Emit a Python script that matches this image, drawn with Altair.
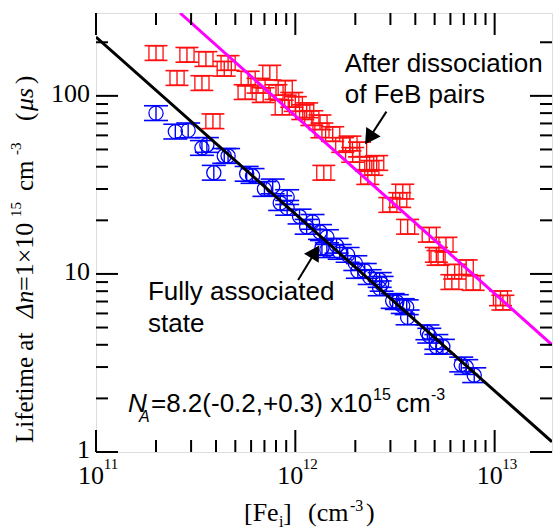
import altair as alt
import pandas as pd

# ---------------- data ----------------
# Fully associated state (blue circles)
blue_fe = [2.0e11, 2.5e11, 2.9e11, 3.4e11, 3.6e11, 4.4e11, 4.6e11, 3.9e11, 5.7e11, 6.1e11,
           7.0e11, 7.7e11, 8.4e11, 9.1e11, 9.1e11, 1.05e12, 1.14e12, 1.22e12, 1.33e12, 1.44e12,
           1.36e12, 1.44e12, 1.67e12, 1.61e12, 1.83e12, 2.0e12, 2.06e12, 2.23e12, 2.36e12, 2.65e12,
           2.71e12, 2.65e12, 3.08e12, 3.23e12, 3.46e12, 3.62e12, 3.66e12, 4.6e12, 4.7e12, 5.1e12,
           5.1e12, 5.5e12, 6.8e12, 7.2e12, 7.9e12]
blue_tau = [80, 63, 64, 51, 53, 46, 46, 37, 36.5, 35.5,
            30, 31, 25, 27, 23.5, 21, 18.4, 19.6, 17.2, 16.1,
            14.0, 13.6, 13.3, 14.4, 12.8, 11.5, 10.4, 10.4, 9.6, 9.25,
            8.8, 8.3, 7.05, 6.95, 6.6, 6.5, 5.7, 4.7, 4.5, 4.15,
            3.9, 3.9, 3.1, 3.0, 2.7]

# After dissociation of FeB pairs (red squares)
red_fe = [2.0e11, 2.86e11, 3.56e11, 4.6e11, 4.4e11, 2.55e11, 3.4e11, 3.86e11, 5.8e11, 7.45e11,
          5.6e11, 6.9e11, 8.9e11, 8.0e11, 8.6e11, 9.6e11, 1.09e12, 1.21e12, 1.33e12, 1.36e12,
          1.54e12, 1.73e12, 1.88e12, 1.94e12, 2.28e12, 2.56e12, 2.42e12, 2.31e12, 1.39e12, 3.46e12,
          3.34e12, 2.98e12, 3.66e12, 4.7e12, 5.7e12, 5.1e12, 5.2e12, 6.3e12, 7.2e12, 6.1e12,
          7.8e12, 1.07e13, 1.1e13, 6.5e11, 1.0e12, 1.14e12, 2.1e12]
red_tau = [174, 170, 161, 153, 142, 126, 118, 72, 125, 135,
           105, 101, 111, 105, 86, 95, 81, 75, 71, 64,
           61, 53, 54, 46.6, 41.5, 42, 39.4, 35, 37, 29,
           26, 24.4, 18.4, 16.6, 14.6, 12.8, 12.3, 10.3, 10.9, 9.0,
           8.9, 7.3, 6.9, 114, 90, 83, 50]

err_frac = 0.10  # relative error bar half-height

# fitted lines (end points)
black_fit_fe = [1e11, 1.94e13]
black_fit_tau = [214, 1.14]
mag_fit_fe = [2.64e11, 1.94e13]
mag_fit_tau = [292, 4.0]

# axes
x_major = [1e11, 1e12, 1e13]
x_exp = ["11", "12", "13"]
x_minor = [2e11, 3e11, 4e11, 5e11, 6e11, 7e11, 8e11, 9e11,
           2e12, 3e12, 4e12, 5e12, 6e12, 7e12, 8e12, 9e12]
y_major = [1, 10, 100]
y_labels = ["1", "10", "100"]
y_minor = [2, 3, 4, 5, 6, 7, 8, 9, 20, 30, 40, 50, 60, 70, 80, 90, 200]

# ---------------- chart ----------------
W, H = 456, 439
xs = alt.Scale(type="log", domain=[1e11, 1.94e13], nice=False)
ys = alt.Scale(type="log", domain=[1, 292], nice=False)
SERIF = "Liberation Serif"
SANS = "Liberation Sans"


def X(f):
    return alt.X(f, type="quantitative", scale=xs, axis=None)


def Y(f):
    return alt.Y(f, type="quantitative", scale=ys, axis=None)


def series(fe, tau):
    df = pd.DataFrame({"fe": fe, "tau": tau})
    df["lo"] = df["tau"] / (1 + err_frac)
    df["hi"] = df["tau"] * (1 + err_frac)
    return df


blue = series(blue_fe, blue_tau)
red = series(red_fe, red_tau)


def errbars(df, color, cap):
    base = alt.Chart(df)
    stem = base.mark_rule(color=color, strokeWidth=1.4, clip=True).encode(
        x=X("fe"), y=Y("lo"), y2="hi:Q")
    top = base.mark_tick(orient="horizontal", color=color, size=cap, thickness=1.6,
                         opacity=1, clip=True).encode(x=X("fe"), y=Y("hi"))
    bot = base.mark_tick(orient="horizontal", color=color, size=cap, thickness=1.6,
                         opacity=1, clip=True).encode(x=X("fe"), y=Y("lo"))
    return [stem, top, bot]


red_pts = alt.Chart(red).mark_point(shape="square", size=200, filled=False, color="#ff1010",
                                    strokeWidth=1.3, opacity=1, clip=True).encode(x=X("fe"), y=Y("tau"))
blue_pts = alt.Chart(blue).mark_point(shape="circle", size=200, filled=False, color="#0000ff",
                                      strokeWidth=1.3, opacity=1, clip=True).encode(x=X("fe"), y=Y("tau"))

black_line = alt.Chart(pd.DataFrame({"fe": black_fit_fe, "tau": black_fit_tau})).mark_line(
    color="black", strokeWidth=3, clip=True).encode(x=X("fe"), y=Y("tau"))
mag_line = alt.Chart(pd.DataFrame({"fe": mag_fit_fe, "tau": mag_fit_tau})).mark_line(
    color="#ff00ff", strokeWidth=3, clip=True).encode(x=X("fe"), y=Y("tau"))


# ticks (inward, on all four sides)
def xticks(vals, length):
    df = pd.DataFrame({"v": vals})
    b = alt.Chart(df).mark_rule(color="black", strokeWidth=2).encode(
        x=X("v"), y=alt.value(H), y2=alt.value(H - length))
    t = alt.Chart(df).mark_rule(color="black", strokeWidth=2).encode(
        x=X("v"), y=alt.value(0), y2=alt.value(length))
    return [b, t]


def yticks(vals, length):
    df = pd.DataFrame({"v": vals})
    l = alt.Chart(df).mark_rule(color="black", strokeWidth=2).encode(
        y=Y("v"), x=alt.value(0), x2=alt.value(length))
    r = alt.Chart(df).mark_rule(color="black", strokeWidth=2).encode(
        y=Y("v"), x=alt.value(W), x2=alt.value(W - length))
    return [l, r]


tick_layers = xticks(x_major, 22) + xticks(x_minor, 12) + yticks(y_major, 22) + yticks(y_minor, 12)

# tick labels
ylab = alt.Chart(pd.DataFrame({"v": y_major, "t": y_labels})).mark_text(
    font=SERIF, fontSize=26, align="right", baseline="middle", dy=-2, color="black").encode(
    y=Y("v"), x=alt.value(-6), text="t:N")
xlab10 = alt.Chart(pd.DataFrame({"v": x_major, "t": ["10"] * 3})).mark_text(
    font=SERIF, fontSize=26, align="center", baseline="alphabetic", dx=-5, color="black").encode(
    x=X("v"), y=alt.value(H + 32), text="t:N")
xlabexp = alt.Chart(pd.DataFrame({"v": x_major, "t": x_exp})).mark_text(
    font=SERIF, fontSize=15, align="center", baseline="alphabetic", dx=15, color="black").encode(
    x=X("v"), y=alt.value(H + 17), text="t:N")


# pixel-placed text pieces (axis titles)
def ptxt(px, py, s, size, font=SERIF, style="normal", angle=0):
    return alt.Chart(pd.DataFrame({"t": [s]})).mark_text(
        font=font, fontSize=size, fontStyle=style, align="left", baseline="alphabetic",
        angle=angle, color="black").encode(x=alt.value(px), y=alt.value(py), text="t:N")


ytitle = [
    ptxt(-63, 430, "Lifetime at", 25, angle=270),
    ptxt(-63, 305, "Δn", 25, style="italic", angle=270),
    ptxt(-63, 278, "=1×10", 26, angle=270),
    ptxt(-75, 204, "15", 15, angle=270),
    ptxt(-63, 178, "cm", 25, angle=270),
    ptxt(-75, 142, "-3", 15, angle=270),
    ptxt(-63, 108, "(", 25, angle=270),
    ptxt(-63, 98, "μs", 26, style="italic", angle=270),
    ptxt(-63, 71, ")", 25, angle=270),
]
xtitle = [
    ptxt(148, 508, "[Fe", 26),
    ptxt(183, 514, "i", 16),
    ptxt(187, 508, "]", 26),
    ptxt(212, 508, "(cm", 26),
    ptxt(254, 498, "-3", 16),
    ptxt(270, 508, ")", 26),
]


# data-placed annotations
def dtxt(fe, tau, s, size, font=SANS, style="normal", dx=0, dy=0, lh=None):
    kw = dict(font=font, fontSize=size, fontStyle=style, align="left", baseline="alphabetic",
              dx=dx, dy=dy, color="black")
    if lh is not None:
        kw["lineBreak"] = "\n"
        kw["lineHeight"] = lh
    return alt.Chart(pd.DataFrame({"fe": [fe], "tau": [tau], "t": [s]})).mark_text(**kw).encode(
        x=X("fe"), y=Y("tau"), text="t:N")


na_fe, na_tau = 1.447e11, 1.678
annots = [
    dtxt(1.77e12, 136.4, "After dissociation\nof FeB pairs", 26, lh=31),
    dtxt(1.823e11, 7.14, "Fully associated\nstate", 26, lh=32),
    dtxt(na_fe, na_tau, "N", 26, style="italic"),
    dtxt(na_fe, na_tau, "A", 16, style="italic", dx=11, dy=10),
    dtxt(na_fe, na_tau, "=8.2(-0.2,+0.3) x10", 26, dx=23),
    dtxt(na_fe, na_tau, "15", 16, dx=245, dy=-12),
    dtxt(na_fe, na_tau, "cm", 26, dx=268),
    dtxt(na_fe, na_tau, "-3", 16, dx=303, dy=-12),
]

# arrows
arrow_df = pd.DataFrame({
    "fe": [2.865e12, 1.033e12], "tau": [81.6, 9.25],
    "fe2": [2.35e12, 1.26e12], "tau2": [58.0, 13.3],
    "ang": [214, 32],
})
arrow_lines = alt.Chart(arrow_df).mark_rule(color="black", strokeWidth=2).encode(
    x=X("fe"), y=Y("tau"), x2="fe2:Q", y2="tau2:Q")
arrow_heads = alt.Chart(arrow_df).mark_point(shape="triangle-up", filled=True, color="black",
                                             size=300, opacity=1).encode(
    x=X("fe2"), y=Y("tau2"), angle=alt.Angle("ang:Q", scale=None))

layers = (errbars(red, "#ff1010", 23) + [red_pts] + errbars(blue, "#0000ff", 24) + [blue_pts]
          + [black_line, mag_line] + tick_layers + [ylab, xlab10, xlabexp]
          + ytitle + xtitle + annots + [arrow_lines, arrow_heads])

chart = alt.layer(*layers).properties(
    width=W, height=H,
    autosize=alt.AutoSizeParams(type="none"),
    padding={"left": 96, "top": 13, "right": 1, "bottom": 78},
).configure_view(stroke="black", strokeWidth=2).configure(background="white")

chart.save("out.html", embed_options={"renderer": "svg", "actions": False})
